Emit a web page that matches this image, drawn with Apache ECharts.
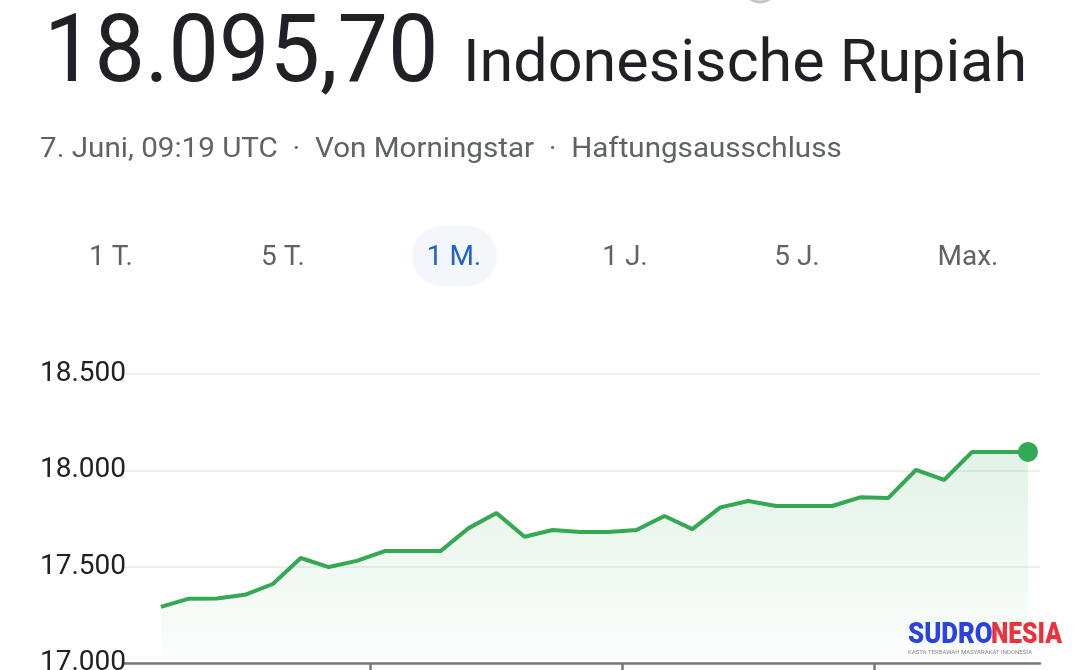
<!DOCTYPE html>
<html>
<head>
<meta charset="utf-8">
<script src="https://cdn.jsdelivr.net/npm/echarts@6/dist/echarts.min.js"></script>
<style>
  html, body { margin: 0; padding: 0; background: #fff; overflow: hidden; }
  #chart-container { width: 1075px; height: 670px; }
</style>
</head>
<body>
<div id="chart-container"></div>
<script>
// daily closes, 7. Mai - 7. Juni
var dates = [
  "07.05", "08.05", "09.05", "10.05", "11.05", "12.05", "13.05", "14.05",
  "15.05", "16.05", "17.05", "18.05", "19.05", "20.05", "21.05", "22.05",
  "23.05", "24.05", "25.05", "26.05", "27.05", "28.05", "29.05", "30.05",
  "31.05", "01.06", "02.06", "03.06", "04.06", "05.06", "06.06", "07.06"
];
var rates = [
  17291, 17334, 17335, 17354, 17410, 17545, 17498, 17530,
  17581, 17581, 17581, 17700, 17778, 17655, 17690, 17680,
  17680, 17690, 17763, 17695, 17808, 17841, 17815, 17815,
  17815, 17860, 17856, 18003, 17950, 18095, 18095, 18095.7
];
var yTicks = [17000, 17500, 18000, 18500];
var xTickPositions = [7.5, 16.5, 25.5];
var ranges = ["1 T.", "5 T.", "1 M.", "1 J.", "5 J.", "Max."];
var activeRange = 2;

var FONT = "Roboto, 'Noto Sans', sans-serif";

var dom = document.getElementById("chart-container");
var myChart = echarts.init(dom, null, { renderer: "canvas" });

function fmt(v) {
  return String(v).replace(/\B(?=(\d{3})+(?!\d))/g, ".");
}

var last = rates.length - 1;
var lineData = rates.map(function (v, i) { return [i, v]; });

var tabX = [111, 283, 454, 625, 797, 968];
var graphics = [
  {
    type: "arc",
    shape: { cx: 760, cy: -14, r: 16, startAngle: 0.3, endAngle: Math.PI - 0.3 },
    style: { stroke: "#c4c4c4", lineWidth: 3, fill: null }
  },
  {
    type: "text", x: 44, y: 57, scaleX: 0.955,
    style: {
      text: fmt(Math.floor(rates[last])) + "," + (rates[last] % 1).toFixed(2).slice(2),
      font: "400 94px " + FONT, fill: "#202124", verticalAlign: "middle"
    }
  },
  {
    type: "text", x: 463, y: 66, scaleX: 1.018,
    style: {
      text: "Indonesische Rupiah",
      font: "400 60px " + FONT, fill: "#202124", verticalAlign: "middle"
    }
  },
  {
    type: "text", x: 40, y: 150, scaleX: 1.057,
    style: {
      text: "7. Juni, 09:19 UTC \u00a0\u00b7\u00a0 Von Morningstar \u00a0\u00b7\u00a0 Haftungsausschluss",
      font: "400 28px " + FONT, fill: "#5f6368", verticalAlign: "middle"
    }
  },
  {
    type: "rect",
    shape: { x: 412, y: 226, width: 85, height: 60, r: 30 },
    style: { fill: "#f3f6fb" }
  }
];
ranges.forEach(function (r, i) {
  graphics.push({
    type: "text", x: tabX[i], y: 258,
    style: {
      text: r, font: "400 28px " + FONT,
      fill: i === activeRange ? "#1f5fcf" : "#5f6368",
      align: "center", verticalAlign: "middle"
    }
  });
});
graphics.push(
  {
    type: "text", x: 908, y: 636, scaleX: 0.89,
    style: { text: "SUDRO", font: "900 29px " + FONT, fill: "#2b3ee6", verticalAlign: "middle" }
  },
  {
    type: "text", x: 991, y: 636, scaleX: 0.85,
    style: { text: "NESIA", font: "900 29px " + FONT, fill: "#f02f3a", verticalAlign: "middle" }
  },
  {
    type: "text", x: 908, y: 652,
    style: {
      text: "KASTA TERBAWAH MASYARAKAT INDONESIA",
      font: "400 6px " + FONT, fill: "#8a8a8a", verticalAlign: "middle"
    }
  }
);

var option = {
  animation: false,
  backgroundColor: "#ffffff",
  grid: { left: 124, right: 35, top: 374, bottom: 7, outerBoundsMode: "none" },
  xAxis: {
    type: "value",
    min: -1.32,
    max: 31.43,
    axisLine: { show: true, lineStyle: { color: "#76797c", width: 2.5 } },
    axisTick: {
      show: true, customValues: xTickPositions, length: 9,
      lineStyle: { color: "#76797c", width: 2.5 }
    },
    axisLabel: { show: false },
    splitLine: { show: false }
  },
  yAxis: {
    type: "value",
    min: yTicks[0],
    max: yTicks[yTicks.length - 1],
    interval: 500,
    axisLine: { show: false },
    axisTick: { show: false },
    axisLabel: {
      align: "left", margin: 84, fontSize: 28, fontFamily: FONT, color: "#202124",
      padding: [5, 0, 0, 0],
      formatter: function (v) { return fmt(v); }
    },
    splitLine: { lineStyle: { color: "#efefef", width: 2 } }
  },
  series: [
    {
      type: "line",
      data: lineData,
      symbol: "none",
      lineStyle: { color: "#34a853", width: 4 },
      areaStyle: {
        color: new echarts.graphic.LinearGradient(0, 0, 0, 1, [
          { offset: 0, color: "rgba(52,168,83,0.2)" },
          { offset: 1, color: "rgba(52,168,83,0.02)" }
        ])
      },
      z: 2
    },
    {
      type: "scatter",
      data: [[last, rates[last]]],
      symbol: "circle",
      symbolSize: 20,
      itemStyle: { color: "#34a853", opacity: 1 },
      z: 3
    }
  ],
  graphic: graphics
};

myChart.setOption(option);
</script>
</body>
</html>
